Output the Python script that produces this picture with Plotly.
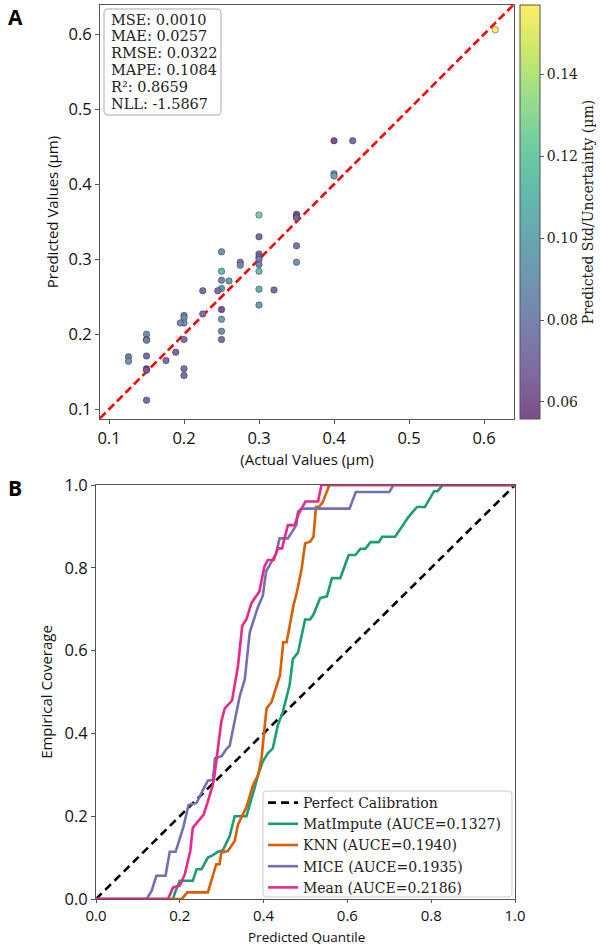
import plotly.graph_objects as go
import plotly.express as px

# ---------------- Panel A data ----------------
actual = [0.400, 0.425, 0.400, 0.400, 0.300, 0.350, 0.350, 0.350, 0.300, 0.350,
          0.350, 0.300, 0.300, 0.300, 0.300, 0.300, 0.300, 0.320, 0.300, 0.275,
          0.275, 0.250, 0.250, 0.250, 0.260, 0.250, 0.245, 0.225, 0.250, 0.250,
          0.250, 0.250, 0.225, 0.200, 0.200, 0.200, 0.195, 0.200, 0.200, 0.200,
          0.189, 0.176, 0.150, 0.150, 0.150, 0.150, 0.150, 0.150, 0.150, 0.126,
          0.126, 0.615]
predicted = [0.458, 0.458, 0.414, 0.411, 0.359, 0.360, 0.357, 0.355, 0.330, 0.318,
             0.296, 0.307, 0.303, 0.300, 0.293, 0.284, 0.260, 0.259, 0.239, 0.296,
             0.292, 0.310, 0.284, 0.272, 0.271, 0.261, 0.258, 0.258, 0.233, 0.220,
             0.204, 0.193, 0.227, 0.225, 0.222, 0.215, 0.215, 0.193, 0.154, 0.145,
             0.176, 0.165, 0.200, 0.193, 0.192, 0.171, 0.154, 0.152, 0.112, 0.170,
             0.164, 0.606]
pred_std = [0.058, 0.068, 0.085, 0.097, 0.125, 0.062, 0.057, 0.065, 0.068, 0.072,
            0.090, 0.070, 0.066, 0.075, 0.080, 0.115, 0.105, 0.068, 0.095, 0.075,
            0.082, 0.088, 0.113, 0.082, 0.096, 0.090, 0.070, 0.068, 0.057, 0.095,
            0.088, 0.070, 0.072, 0.080, 0.085, 0.090, 0.085, 0.072, 0.070, 0.068,
            0.066, 0.070, 0.088, 0.082, 0.078, 0.068, 0.057, 0.060, 0.068, 0.075,
            0.092, 0.156]
diag_a = [0.088, 0.64]
stats_lines = ["MSE: 0.0010", "MAE: 0.0257", "RMSE: 0.0322", "MAPE: 0.1084",
               "R²: 0.8659", "NLL: -1.5867"]
cbar_ticks = [0.06, 0.08, 0.10, 0.12, 0.14]
a_ticks = [0.1, 0.2, 0.3, 0.4, 0.5, 0.6]

# ---------------- Panel B data ----------------
perfect_q = [0.0, 1.0]
perfect_c = [0.0, 1.0]

mat_q = [0, 0.184, 0.188, 0.2, 0.231, 0.24, 0.252, 0.267, 0.279, 0.291, 0.303, 0.319,
         0.331, 0.359, 0.379, 0.387, 0.398, 0.41, 0.422, 0.434, 0.446, 0.454, 0.462,
         0.47, 0.482, 0.499, 0.511, 0.519, 0.535, 0.551, 0.563, 0.583, 0.603, 0.619,
         0.631, 0.643, 0.655, 0.675, 0.683, 0.714, 0.746, 0.766, 0.785, 0.807, 0.815,
         0.828, 1.0]
mat_c = [0, 0, 0.014, 0.044, 0.044, 0.072, 0.072, 0.1, 0.106, 0.114, 0.118, 0.152,
         0.2, 0.2, 0.27, 0.3, 0.332, 0.352, 0.364, 0.42, 0.452, 0.484, 0.516,
         0.58, 0.595, 0.675, 0.675, 0.687, 0.727, 0.731, 0.775, 0.775, 0.831, 0.831,
         0.846, 0.846, 0.862, 0.862, 0.875, 0.875, 0.923, 0.947, 0.947, 0.985, 0.985,
         1.0, 1.0]

knn_q = [0, 0.205, 0.208, 0.218, 0.267, 0.275, 0.287, 0.295, 0.299, 0.315, 0.331,
         0.339, 0.359, 0.375, 0.387, 0.395, 0.403, 0.407, 0.419, 0.431, 0.439, 0.447,
         0.455, 0.471, 0.479, 0.491, 0.499, 0.511, 0.519, 0.525, 0.533, 0.541, 0.557,
         1.0]
knn_c = [0, 0, 0.004, 0.016, 0.016, 0.044, 0.084, 0.084, 0.112, 0.116, 0.14,
         0.18, 0.222, 0.276, 0.3, 0.34, 0.412, 0.46, 0.476, 0.516, 0.54, 0.62,
         0.62, 0.708, 0.739, 0.799, 0.859, 0.863, 0.875, 0.947, 0.948, 0.958, 1.0,
         1.0]

mice_q = [0, 0.121, 0.133, 0.144, 0.166, 0.176, 0.19, 0.208, 0.221, 0.24, 0.256,
          0.267, 0.279, 0.284, 0.3, 0.311, 0.319, 0.325, 0.331, 0.343, 0.355, 0.367,
          0.386, 0.398, 0.406, 0.43, 0.438, 0.458, 0.478, 0.482, 0.49, 0.605, 0.62,
          0.70, 0.71, 1.0]
mice_c = [0, 0, 0.02, 0.056, 0.056, 0.114, 0.114, 0.172, 0.227, 0.232, 0.265,
          0.286, 0.288, 0.34, 0.345, 0.362, 0.37, 0.4, 0.43, 0.49, 0.53, 0.644,
          0.704, 0.732, 0.791, 0.835, 0.871, 0.871, 0.903, 0.935, 0.943, 0.943, 0.983,
          0.983, 1.0, 1.0]

mean_q = [0, 0.172, 0.184, 0.2, 0.212, 0.225, 0.231, 0.246, 0.257, 0.267, 0.279,
          0.283, 0.291, 0.299, 0.307, 0.319, 0.325, 0.331, 0.339, 0.349, 0.359, 0.371,
          0.39, 0.402, 0.41, 0.424, 0.434, 0.444, 0.458, 0.474, 0.482, 0.5, 0.53,
          0.538, 1.0]
mean_c = [0, 0, 0.028, 0.032, 0.06, 0.116, 0.172, 0.192, 0.204, 0.236, 0.276,
          0.3, 0.372, 0.428, 0.46, 0.475, 0.48, 0.516, 0.564, 0.66, 0.675, 0.715,
          0.743, 0.803, 0.819, 0.819, 0.847, 0.847, 0.903, 0.903, 0.927, 0.96, 0.96,
          1.0, 1.0]

series_names = ["MatImpute (AUCE=0.1327)", "KNN (AUCE=0.1940)",
                "MICE (AUCE=0.1935)", "Mean (AUCE=0.2186)"]
series_colors = ["#1b9e77", "#d95f02", "#7570b3", "#e7298a"]
b_ticks = [0.0, 0.2, 0.4, 0.6, 0.8, 1.0]

# ---------------- helpers ----------------
W, H = 600, 948
SANS = "Open Sans"
SERIF = "DejaVu Serif"
AXC = "#555555"


def blend(hexc, a=0.7):
    hexc = hexc.lstrip("#")
    r, g, b = int(hexc[0:2], 16), int(hexc[2:4], 16), int(hexc[4:6], 16)
    r = round(a * r + (1 - a) * 255)
    g = round(a * g + (1 - a) * 255)
    b = round(a * b + (1 - a) * 255)
    return f"rgb({r},{g},{b})"


def px_x(p):
    return p / W


def px_y(p):
    return 1 - p / H


def round_rect(x0, y0, x1, y1, r=4):
    # pixel coords (top-left origin) -> paper path with rounded corners
    X = lambda v: f"{px_x(v):.5f}"
    Y = lambda v: f"{px_y(v):.5f}"
    return (f"M {X(x0 + r)},{Y(y0)} L {X(x1 - r)},{Y(y0)} "
            f"Q {X(x1)},{Y(y0)} {X(x1)},{Y(y0 + r)} "
            f"L {X(x1)},{Y(y1 - r)} Q {X(x1)},{Y(y1)} {X(x1 - r)},{Y(y1)} "
            f"L {X(x0 + r)},{Y(y1)} Q {X(x0)},{Y(y1)} {X(x0)},{Y(y1 - r)} "
            f"L {X(x0)},{Y(y0 + r)} Q {X(x0)},{Y(y0)} {X(x0 + r)},{Y(y0)} Z")


vir = px.colors.sequential.Viridis
n = len(vir)
cscale = [[i / (n - 1), blend(c)] for i, c in enumerate(vir)]

fig = go.Figure()

# Panel A
fig.add_trace(go.Scatter(
    x=diag_a, y=diag_a, mode="lines", xaxis="x", yaxis="y",
    line=dict(color="red", width=2.6, dash="8px,4px"), showlegend=False))
fig.add_trace(go.Scatter(
    x=actual, y=predicted, mode="markers", xaxis="x", yaxis="y",
    showlegend=False,
    marker=dict(size=6.5, color=pred_std, colorscale=cscale,
                cmin=0.0558, cmax=0.157,
                line=dict(color="rgba(40,40,60,0.75)", width=0.6),
                colorbar=dict(
                    x=520 / W, xanchor="left", xref="paper",
                    y=1 - 212 / H, yanchor="middle", yref="paper",
                    len=414 / H, lenmode="fraction", thickness=20,
                    thicknessmode="pixels", outlinecolor=AXC, outlinewidth=1,
                    tickvals=cbar_ticks, ticktext=[f"{v:.2f}" for v in cbar_ticks],
                    ticks="outside", ticklen=4, tickcolor=AXC,
                    tickfont=dict(family=SERIF, size=14, color="#222"),
                    title=dict(text="Predicted Std/Uncertainty (µm)", side="right",
                               font=dict(family=SERIF, size=14, color="#222")),
                    xpad=0, ypad=0))))

# Panel B
fig.add_trace(go.Scatter(
    x=perfect_q, y=perfect_c, mode="lines", xaxis="x2", yaxis="y2",
    name="Perfect Calibration",
    line=dict(color="black", width=2.6, dash="8px,5px")))
for q, c, nm, col in zip([mat_q, knn_q, mice_q, mean_q],
                         [mat_c, knn_c, mice_c, mean_c],
                         series_names, series_colors):
    fig.add_trace(go.Scatter(x=q, y=c, mode="lines", xaxis="x2", yaxis="y2",
                             name=nm, line=dict(color=col, width=2.6)))

axis_common = dict(showline=True, mirror=True, linecolor=AXC, linewidth=1,
                   ticks="outside", ticklen=4, tickcolor=AXC, showgrid=False,
                   zeroline=False, automargin=False,
                   tickfont=dict(family=SANS, size=16.5, color="#111"))
TITLE_FONT = dict(family=SANS, size=15, color="#111")

B_TOP, B_BOT = 485, 899

annotations = []
# stats box text, one line each
for i, line in enumerate(stats_lines):
    annotations.append(dict(
        text=line, xref="paper", yref="paper", x=px_x(109), y=px_y(19.5 + i * 16.8),
        xanchor="left", yanchor="middle", showarrow=False, align="left",
        font=dict(family=SERIF, size=14.5, color="#222")))
annotations += [
    dict(text="<b>A</b>", xref="paper", yref="paper", x=px_x(15), y=px_y(17),
         xanchor="center", yanchor="middle", showarrow=False,
         font=dict(family=SANS, size=21, color="black")),
    dict(text="<b>B</b>", xref="paper", yref="paper", x=px_x(15), y=px_y(488),
         xanchor="center", yanchor="middle", showarrow=False,
         font=dict(family=SANS, size=21, color="black")),
    dict(text="Predicted Quantile", xref="paper", yref="paper", x=px_x(306),
         y=0, xanchor="center", yanchor="bottom", showarrow=False,
         font=dict(family=SANS, size=13.5, color="#111")),
]

shapes = [
    dict(type="path", path=round_rect(104, 9, 221, 115, 4), xref="paper",
         yref="paper", line=dict(color="#aaaaaa", width=1), fillcolor="white",
         layer="above"),
    dict(type="path", path=round_rect(263, 791, 512, 897, 4), xref="paper",
         yref="paper", line=dict(color="#cccccc", width=1), fillcolor="white",
         layer="below"),
]

x2_axis = dict(axis_common)
x2_axis["tickfont"] = dict(family=SANS, size=15, color="#111")
x2_axis["ticklen"] = 3

fig.update_layout(
    width=W, height=H, margin=dict(l=0, r=0, t=0, b=0),
    paper_bgcolor="white", plot_bgcolor="white",
    xaxis=dict(domain=[100 / W, 514 / W], anchor="y", range=[0.088, 0.64],
               tickvals=a_ticks, ticktext=[f"{v:.1f}" for v in a_ticks],
               title=dict(text="(Actual Values (µm)", standoff=4, font=TITLE_FONT),
               **axis_common),
    yaxis=dict(domain=[1 - 419 / H, 1 - 5 / H], anchor="x", range=[0.087, 0.639],
               tickvals=a_ticks, ticktext=[f"{v:.1f}" for v in a_ticks],
               title=dict(text="Predicted Values (µm)", standoff=6, font=TITLE_FONT),
               **axis_common),
    xaxis2=dict(domain=[96 / W, 515 / W], anchor="y2", range=[0, 1],
                tickvals=b_ticks, ticktext=[f"{v:.1f}" for v in b_ticks],
                **x2_axis),
    yaxis2=dict(domain=[1 - B_BOT / H, 1 - B_TOP / H], anchor="x2", range=[0, 1],
                tickvals=b_ticks, ticktext=[f"{v:.1f}" for v in b_ticks],
                title=dict(text="Empirical Coverage", standoff=8, font=TITLE_FONT),
                **axis_common),
    legend=dict(x=px_x(263), xanchor="left", y=px_y(787), yanchor="top",
                bgcolor="rgba(0,0,0,0)", borderwidth=0,
                font=dict(family=SERIF, size=14, color="#222"),
                tracegroupgap=0, itemwidth=30),
    annotations=annotations,
    shapes=shapes,
)

fig.write_html("out.html")
